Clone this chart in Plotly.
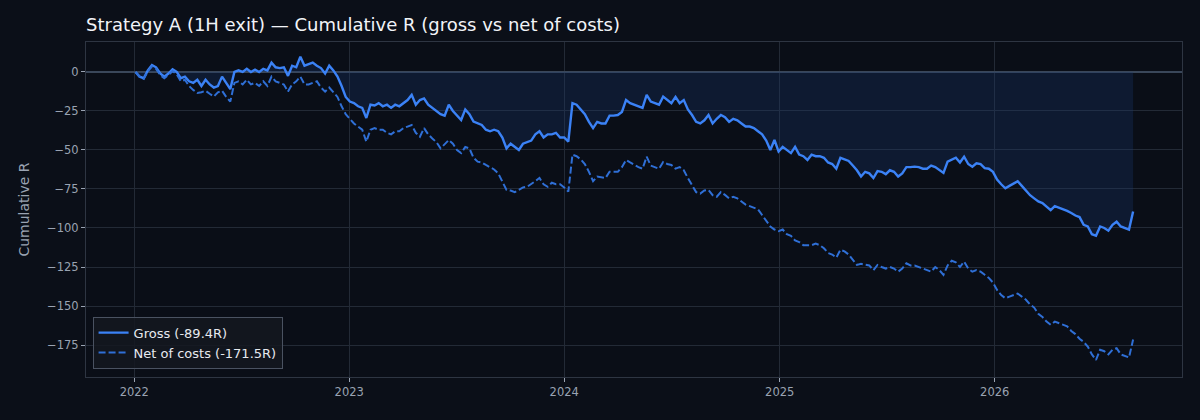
import pandas as pd
import plotly.graph_objects as go

# weekly cumulative R
gross_2022 = [0, -3, -4, 1, 4.5, 3, -1, -3, -1, 1.7, 0, -4, -3, -6, -7, -5, -9, -5, -8, -10,
              -9, -3, -7, -11, 0, 1, 0, 2, 0, 1.5, 0, 2, 1, 6, 3, 2.5, 3, -2.5, 4, 3,
              9.8, 4, 5, 6, 4, 2.5, -1, 4, 1, -3, -9, -16]
gross_2023 = [-19, -20, -22, -23, -29.5, -21, -21.5, -20, -22, -21, -23, -21, -22, -20, -18, -14.7, -21, -18, -17, -21,
              -23, -25.5, -27, -28, -21, -25, -27.6, -30.8, -24, -27, -31.8, -33, -34, -37, -38, -37, -38, -42, -49, -46,
              -48, -50, -46, -45, -44, -40, -38, -42, -40, -40, -39, -42]
gross_2024 = [-42, -44.7, -20, -21, -24, -27, -32, -36, -32, -33, -33, -28, -28, -27.6, -25.6, -18, -20, -21, -22, -23,
              -14.7, -19, -20, -21, -15.8, -18, -20, -16, -20, -18, -24, -27.6, -32, -33, -31, -27.6, -33, -30, -27.6, -29,
              -32, -30, -31, -33, -35, -35, -36, -38, -40, -44, -50, -43.6]
gross_2025 = [-51, -48, -50, -52, -48, -53, -54, -56.4, -53, -54, -54, -55, -58, -59, -62, -55, -56, -57, -60, -63,
              -67, -64, -65, -68, -63.5, -64, -65.5, -63, -64, -67, -65, -61, -61, -60.7, -61, -62, -62, -60, -61, -63,
              -64.7, -57.5, -56, -55, -58, -54.3, -59, -60.7, -58.5, -59, -61.6, -62]
gross_2026 = [-64, -69, -72, -74.6, -73, -71.5, -70, -73, -76, -79, -81, -83, -84, -86, -88.5, -86, -87, -87.5, -89, -90.4,
              -92, -93, -98, -99, -104, -105, -99, -100, -101.7, -98, -96, -99, -100, -101, -89.4]

net_2022 = [0, -3, -4.5, 0.5, 3.5, 2, -2, -4, -2, 0.5, -1.5, -6, -5, -9, -11.5, -13.5, -13, -12, -14, -15.8,
            -13, -12, -16, -19, -7, -6, -8, -5, -8, -7, -9, -6, -9, -3, -6, -7, -8, -12.6, -8, -6,
            -3, -8, -8, -7, -6, -10, -12.6, -10, -13, -16, -22, -27]
net_2023 = [-30, -33, -35, -37, -44.7, -37, -36, -37, -37, -39, -40, -38, -38, -36, -35, -34, -39, -41.5, -36, -40,
            -42.6, -45, -49, -46, -43.6, -46, -50, -52, -48, -49, -55, -57.5, -58, -59.6, -61, -62.5, -65, -70, -75.6, -76,
            -77, -75.6, -74, -73.6, -72, -70, -68, -72, -73.6, -71, -72, -72]
net_2024 = [-74, -76.7, -53, -54, -56, -59, -64, -70, -67, -67.5, -68, -64, -64, -64, -61, -56.4, -58, -59.6, -61, -62,
            -54.3, -60, -61, -62, -57.7, -59, -59.6, -62, -61, -63, -68, -73, -77, -78, -76, -75.6, -79, -80, -77, -78.8,
            -81, -80, -81, -83, -85, -86, -87, -88, -91.7, -95, -99, -101]
net_2025 = [-102, -101, -104, -105, -108, -109, -111, -111, -111, -110, -111, -113, -116, -117, -119, -114, -115, -117, -120, -123.7,
            -123, -123.7, -124, -127, -123.7, -125, -126, -125, -126, -128, -126, -122.6, -124, -124, -125, -126, -127, -128, -125, -127,
            -130, -124, -121, -122, -125, -121.6, -126, -128, -127, -128, -130, -132]
net_2026 = [-135, -139.7, -143, -145, -144, -143, -142, -144, -146, -149, -151, -155, -157, -160, -162, -160, -161, -162, -163, -166,
            -168, -171, -173, -176, -181, -184.6, -178, -179, -181, -178, -177, -181, -182, -183, -171.5]

gross = gross_2022 + gross_2023 + gross_2024 + gross_2025 + gross_2026
net = net_2022 + net_2023 + net_2024 + net_2025 + net_2026
dates = pd.date_range("2022-01-03", periods=len(gross), freq="7D")

gross_label = f"Gross ({gross[-1]:.1f}R)"
net_label = f"Net of costs ({net[-1]:.1f}R)"

BG = "#0b0f18"
GRID = "#232a36"
TEXT = "#9aa3b2"

fig = go.Figure()
fig.add_trace(go.Scatter(x=dates, y=gross, mode="lines", line=dict(width=0),
                         fill="tozeroy", fillcolor="rgba(25,55,110,0.3)",
                         showlegend=False, hoverinfo="skip"))
fig.add_trace(go.Scatter(x=dates, y=gross, mode="lines", name=gross_label,
                         line=dict(color="#3b82f6", width=2.4)))
fig.add_trace(go.Scatter(x=dates, y=net, mode="lines", name=net_label,
                         line=dict(color="#2f6fd6", width=2, dash="7px,3px")))

fig.update_layout(
    width=1200, height=420,
    paper_bgcolor=BG, plot_bgcolor="#0a0e17",
    margin=dict(l=86, r=18, t=42, b=43),
    font=dict(family="DejaVu Sans", color=TEXT, size=11),
    title=dict(text="Strategy A (1H exit) — Cumulative R (gross vs net of costs)",
               font=dict(size=18, color="#f2f4f8"),
               x=0, xref="paper", xanchor="left", y=1 - 25 / 420, yanchor="middle"),
    legend=dict(x=0.006, y=0.025, xanchor="left", yanchor="bottom",
                bgcolor="rgba(20,24,32,0.85)", bordercolor="#4a5261", borderwidth=1,
                font=dict(size=13, color="#e6e9ef"), tracegroupgap=0),
    showlegend=True,
)
fig.update_xaxes(range=["2021-10-11", "2026-11-15"], showgrid=True, gridcolor=GRID,
                 showline=True, mirror=True, linecolor="#2e3542",
                 ticks="outside", ticklen=4, tickcolor=TEXT, dtick="M12",
                 tickformat="%Y", tickfont=dict(color=TEXT, size=11.5))
fig.update_yaxes(range=[-195.5, 19.2], showgrid=True, gridcolor=GRID, dtick=25,
                 zeroline=True, zerolinecolor="#3a475a", zerolinewidth=1.5,
                 showline=True, mirror=True, linecolor="#2e3542",
                 ticks="outside", ticklen=4, tickcolor=TEXT,
                 tickfont=dict(color=TEXT, size=11.5),
                 title=dict(text="Cumulative R", font=dict(size=14, color=TEXT), standoff=14))

# drop the page's default white body margin so the dark figure fills the window
fig.write_html("out.html", config={"displayModeBar": False},
               post_script="document.body.style.margin='0';document.body.style.background='#0b0f18';")
